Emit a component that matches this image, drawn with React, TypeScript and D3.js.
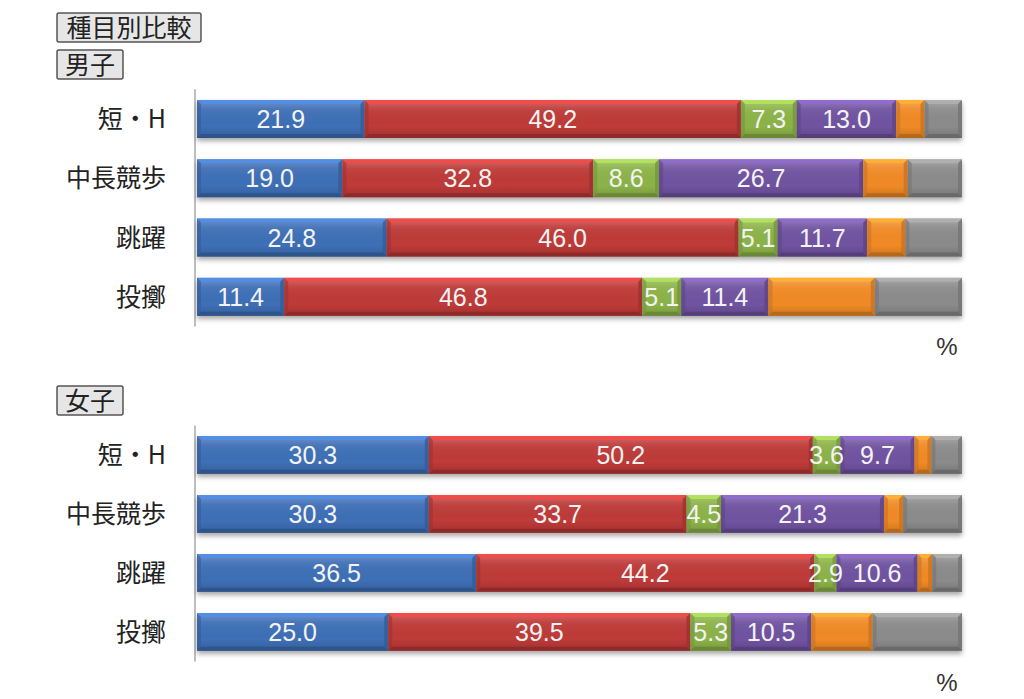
import React from 'react';
import * as d3 from 'd3';

// event groups (rows)
const categories = ['短・H', '中長競歩', '跳躍', '投擲'];

// share per series (%), men
const menS1 = [21.9, 19.0, 24.8, 11.4];
const menS2 = [49.2, 32.8, 46.0, 46.8];
const menS3 = [7.3, 8.6, 5.1, 5.1];
const menS4 = [13.0, 26.7, 11.7, 11.4];
const menS5 = [3.7, 5.8, 5.0, 13.9];
const menS6 = [4.9, 7.1, 7.4, 11.4];

// share per series (%), women
const womenS1 = [30.3, 30.3, 36.5, 25.0];
const womenS2 = [50.2, 33.7, 44.2, 39.5];
const womenS3 = [3.6, 4.5, 2.9, 5.3];
const womenS4 = [9.7, 21.3, 10.6, 10.5];
const womenS5 = [2.2, 2.5, 1.9, 8.0];
const womenS6 = [4.0, 7.7, 3.9, 11.7];

const seriesKeys = ['s1', 's2', 's3', 's4', 's5', 's6'];
const seriesColors = ['#3e6fb6', '#be3a38', '#8cb348', '#7053a1', '#f08a25', '#8b8b8b'];
const labeledKeys = ['s1', 's2', 's3', 's4'];

const JP = '"Noto Sans CJK JP", "Noto Sans", sans-serif';
const NUM = '"Liberation Sans", Arial, sans-serif';

const x = d3.scaleLinear().domain([0, 100]).range([197, 962]);
const color = d3.scaleOrdinal<string, string>().domain(seriesKeys).range(seriesColors);

function buildRows(cols: number[][]) {
  return categories.map((c, i) => {
    const row: any = { cat: c };
    seriesKeys.forEach((k, j) => (row[k] = cols[j][i]));
    return row;
  });
}

const stack = d3.stack<any>().keys(seriesKeys);

function Segment({ x0, x1, y, h, c }: any) {
  const w = x1 - x0;
  const b = Math.min(4, w / 3);
  const base = d3.color(c)!;
  const light = base.brighter(0.7).formatHex();
  const dark = base.darker(0.5).formatHex();
  const darker = base.darker(0.9).formatHex();
  return (
    <g>
      <rect x={x0} y={y} width={w} height={h} fill={c} />
      <rect x={x0} y={y} width={w} height={h} fill="url(#shade)" />
      {/* bevel edges */}
      <polygon points={`${x0},${y} ${x1},${y} ${x1 - b},${y + b} ${x0 + b},${y + b}`} fill={light} opacity={0.85} />
      <polygon points={`${x0},${y} ${x0 + b},${y + b} ${x0 + b},${y + h - b} ${x0},${y + h}`} fill={dark} opacity={0.6} />
      <polygon points={`${x1},${y} ${x1 - b},${y + b} ${x1 - b},${y + h - b} ${x1},${y + h}`} fill={dark} opacity={0.8} />
      <polygon points={`${x0},${y + h} ${x0 + b},${y + h - b} ${x1 - b},${y + h - b} ${x1},${y + h}`} fill={darker} opacity={0.8} />
    </g>
  );
}

function Panel({ cols, top, bottom, pctY }: any) {
  const rows = buildRows(cols);
  const layers = stack(rows);
  const y = d3.scaleBand().domain(categories).range([top, bottom]).paddingInner(0.36).paddingOuter(0.18);
  const h = y.bandwidth();
  return (
    <g>
      <line x1={195} x2={195} y1={top} y2={bottom} stroke="#a8a8a8" strokeWidth={1.5} />
      {categories.map((c) => (
        <text key={c} x={166} y={y(c)! + h / 2} dy="0.36em" textAnchor="end" fontFamily={JP} fontSize={25} fill="#222">
          {c}
        </text>
      ))}
      {categories.map((c, i) => (
        <g key={c} filter="url(#shadow)">
          {layers.map((layer) => (
            <Segment key={layer.key} x0={x(layer[i][0])} x1={x(layer[i][1])} y={y(c)} h={h} c={color(layer.key)} />
          ))}
        </g>
      ))}
      {/* value labels on top of every segment */}
      {categories.map((c, i) =>
        layers
          .filter((layer) => labeledKeys.includes(layer.key))
          .map((layer) => {
            const d = layer[i];
            return (
              <text
                key={c + layer.key}
                x={(x(d[0]) + x(d[1])) / 2}
                y={y(c)! + h / 2}
                dy="0.36em"
                textAnchor="middle"
                fontFamily={NUM}
                fontSize={25}
                fill="#f3f3f3"
              >
                {(d[1] - d[0]).toFixed(1)}
              </text>
            );
          })
      )}
      <text x={947} y={pctY} dy="0.36em" textAnchor="middle" fontFamily={NUM} fontSize={24} fill="#333">
        %
      </text>
    </g>
  );
}

function TagBox({ x0, y0, w, h, text }: any) {
  return (
    <g>
      <rect x={x0} y={y0} width={w} height={h} rx={2} fill="#e6e6e6" stroke="#555" strokeWidth={1.5} />
      <text x={x0 + w / 2} y={y0 + h / 2} dy="0.36em" textAnchor="middle" fontFamily={JP} fontSize={25} fill="#222">
        {text}
      </text>
    </g>
  );
}

export default function App() {
  const menCols = [menS1, menS2, menS3, menS4, menS5, menS6];
  const womenCols = [womenS1, womenS2, womenS3, womenS4, womenS5, womenS6];
  return (
    <svg
      width={1024}
      height={699}
      style={{ position: 'absolute', left: 0, top: 0, background: '#fff' }}
    >
      <defs>
        <linearGradient id="shade" x1="0" y1="0" x2="0" y2="1">
          <stop offset="0" stopColor="#fff" stopOpacity={0.25} />
          <stop offset="0.25" stopColor="#fff" stopOpacity={0.05} />
          <stop offset="0.7" stopColor="#000" stopOpacity={0} />
          <stop offset="1" stopColor="#000" stopOpacity={0.15} />
        </linearGradient>
        <filter id="shadow" x="-5%" y="-20%" width="110%" height="160%">
          <feDropShadow dx={0} dy={3} stdDeviation={2.5} floodColor="#000" floodOpacity={0.35} />
        </filter>
      </defs>
      <rect width={1024} height={699} fill="#fff" />
      <TagBox x0={57} y0={13} w={144} h={29} text="種目別比較" />
      <TagBox x0={57} y0={50} w={66} h={29} text="男子" />
      <Panel cols={menCols} top={89.3} bottom={326.5} pctY={346} />
      <TagBox x0={57} y0={386} w={66} h={29} text="女子" />
      <Panel cols={womenCols} top={425.4} bottom={661.4} pctY={682} />
    </svg>
  );
}
